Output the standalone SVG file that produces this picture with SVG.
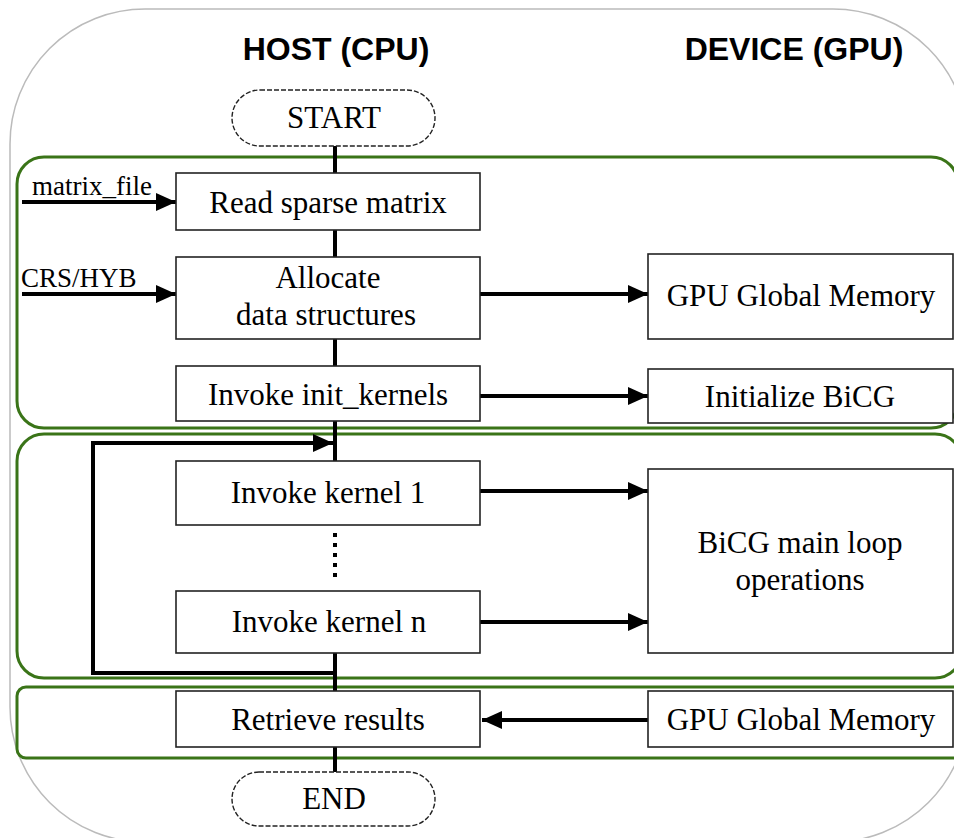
<svg xmlns="http://www.w3.org/2000/svg" width="954" height="838" viewBox="0 0 954 838">
<style>
.box{fill:#fff;stroke:#222;stroke-width:1.6}
.term{fill:#fff;stroke:#222;stroke-width:1.4;stroke-dasharray:5 2}
.grp{fill:none;stroke:#3a7418;stroke-width:3}
.t{font-family:'Liberation Serif','Times New Roman',serif;font-size:31px;fill:#000;text-anchor:middle}
.lbl{font-family:'Liberation Serif','Times New Roman',serif;font-size:27px;fill:#000}
.title{font-family:'Liberation Sans',Arial,sans-serif;font-weight:bold;font-size:32px;fill:#000;text-anchor:middle}
.ln{fill:none;stroke:#000;stroke-width:4}
.arr{fill:none;stroke:#000;stroke-width:4;marker-end:url(#ah)}
</style>
<defs>
<marker id="ah" markerUnits="userSpaceOnUse" markerWidth="20" markerHeight="18" refX="20" refY="9" orient="auto">
<path d="M0,0 L20,9 L0,18 z" fill="#000"/>
</marker>
</defs>
<rect x="10" y="9" width="958" height="833" rx="135" ry="135" fill="#fff" stroke="#bbb" stroke-width="1.5"/>
<text class="title" x="336" y="60">HOST (CPU)</text>
<text class="title" x="794" y="60">DEVICE (GPU)</text>
<g id="groups">
<rect class="grp" x="17" y="157" width="941" height="271" rx="27"/>
<rect class="grp" x="17" y="434" width="945" height="244" rx="27"/>
<rect class="grp" x="17" y="687" width="960" height="71" rx="9"/>
</g>
<g id="connectors">
<line class="ln" x1="335" y1="146" x2="335" y2="173"/>
<line class="ln" x1="335" y1="230" x2="335" y2="257"/>
<line class="ln" x1="335" y1="339" x2="335" y2="366"/>
<line class="ln" x1="335" y1="421" x2="335" y2="461"/>
<line class="ln" x1="335" y1="653" x2="335" y2="691"/>
<line class="ln" x1="335" y1="747" x2="335" y2="772"/>
<line x1="335" y1="533" x2="335" y2="582" stroke="#000" stroke-width="4" stroke-dasharray="4 6"/>
<path class="arr" d="M335,673 H93 V443 H333"/>
<line class="arr" x1="22" y1="202" x2="176" y2="202"/>
<line class="arr" x1="22" y1="294" x2="176" y2="294"/>
<line class="arr" x1="480" y1="294" x2="648" y2="294"/>
<line class="arr" x1="480" y1="396" x2="648" y2="396"/>
<line class="arr" x1="480" y1="491" x2="648" y2="491"/>
<line class="arr" x1="480" y1="622" x2="648" y2="622"/>
<line class="arr" x1="648" y1="720" x2="482" y2="720"/>
<text class="lbl" x="32" y="195">matrix_file</text>
<text class="lbl" x="21" y="287">CRS/HYB</text>
</g>
<g id="start"><rect class="term" x="232" y="90" width="203" height="56" rx="28"/><text class="t" x="334" y="128">START</text></g>
<g id="read"><rect class="box" x="176" y="173" width="304" height="57"/><text class="t" x="328" y="213">Read sparse matrix</text></g>
<g id="alloc"><rect class="box" x="176" y="257" width="304" height="82"/><text class="t" x="328" y="288">Allocate</text><text class="t" x="326" y="325">data structures</text></g>
<g id="init"><rect class="box" x="176" y="366" width="304" height="55"/><text class="t" x="328" y="405">Invoke init_kernels</text></g>
<g id="gmem1"><rect class="box" x="648" y="254" width="305" height="85"/><text class="t" x="801" y="306">GPU Global Memory</text></g>
<g id="initbicg"><rect class="box" x="648" y="369" width="305" height="54"/><text class="t" x="800" y="407">Initialize BiCG</text></g>
<g id="k1"><rect class="box" x="176" y="461" width="304" height="64"/><text class="t" x="328" y="503">Invoke kernel 1</text></g>
<g id="kn"><rect class="box" x="176" y="591" width="304" height="62"/><text class="t" x="329" y="632">Invoke kernel n</text></g>
<g id="mainloop"><rect class="box" x="648" y="469" width="305" height="184"/><text class="t" x="800" y="553">BiCG main loop</text><text class="t" x="800" y="590">operations</text></g>
<g id="retrieve"><rect class="box" x="176" y="691" width="304" height="56"/><text class="t" x="328" y="730">Retrieve results</text></g>
<g id="gmem2"><rect class="box" x="648" y="691" width="305" height="56"/><text class="t" x="801" y="730">GPU Global Memory</text></g>
<g id="end"><rect class="term" x="232" y="772" width="203" height="54" rx="27"/><text class="t" x="334" y="809">END</text></g>
</svg>
